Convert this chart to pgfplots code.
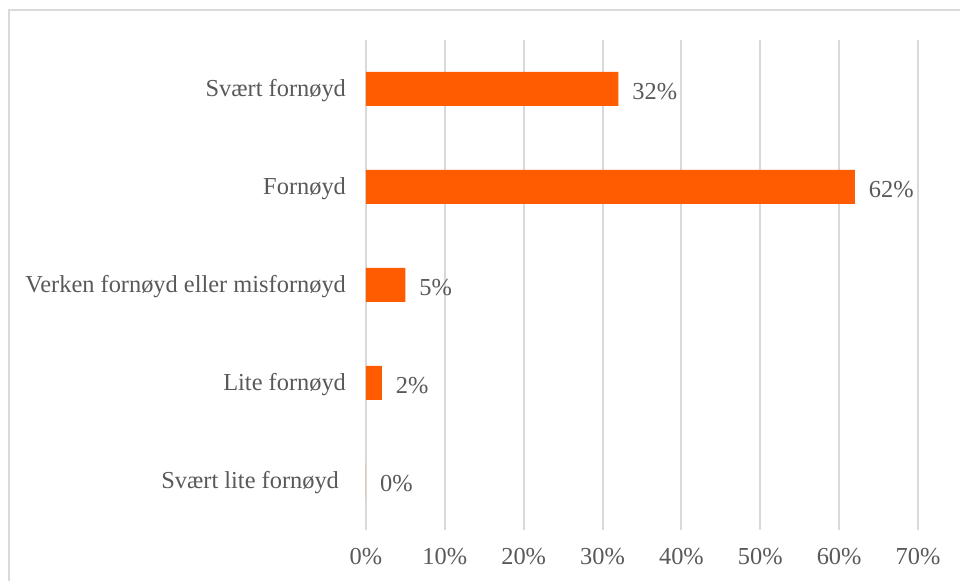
\documentclass[border=0pt]{standalone}
\usepackage{pgfplots}
\pgfplotsset{compat=1.18}
\usepackage{fontspec}
\setmainfont{Liberation Serif}
\definecolor{barorange}{RGB}{255,91,0}
\definecolor{gridgray}{RGB}{217,217,217}
\definecolor{textgray}{RGB}{89,89,89}
\begin{document}
\begin{tikzpicture}
\path[use as bounding box] (0,0) rectangle (480pt,290.5pt);
\draw[gridgray, line width=1pt] (4.5pt,-2pt) -- (4.5pt,285.5pt) -- (482pt,285.5pt);
\begin{axis}[
  at={(183pt,25.5pt)}, anchor=south west,
  scale only axis,
  width=276pt, height=245pt,
  xbar, bar width=17pt,
  xmin=0, xmax=70,
  ymin=-0.5, ymax=4.5,
  xtick={0,10,...,70},
  ytick={0,1,2,3,4},
  yticklabels={Svært lite fornøyd\rule{3.5pt}{0pt}, Lite fornøyd, Verken fornøyd eller misfornøyd, Fornøyd, Svært fornøyd},
  xticklabel={\pgfmathprintnumber{\tick}\%},
  /pgf/number format/assume math mode=true,
  axis line style={draw=none},
  major tick length=0pt,
  xmajorgrids,
  grid style={gridgray, line width=1pt},
  tick label style={font=\fontsize{12.2pt}{14pt}\selectfont, text=textgray},
  xticklabel style={yshift=-5.5pt},
  yticklabel style={xshift=-6.5pt, yshift=-1pt},
  nodes near coords={\pgfmathprintnumber{\pgfplotspointmeta}\%},
  nodes near coords style={font=\fontsize{12.2pt}{14pt}\selectfont, text=textgray, anchor=west, xshift=3.5pt, yshift=-1.5pt},
  point meta=x,
]
\addplot[fill=barorange, draw=none] coordinates {(0,0) (2,1) (5,2) (62,3) (32,4)};
\end{axis}
\end{tikzpicture}
\end{document}
